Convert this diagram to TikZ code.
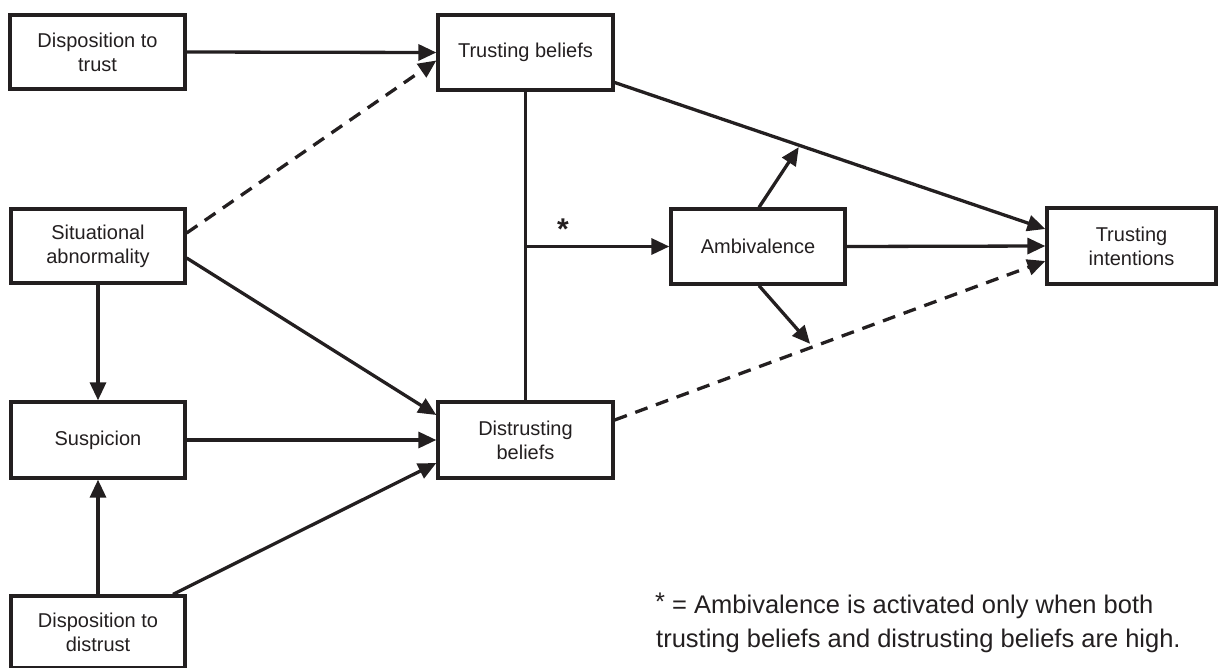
\documentclass[tikz,border=0pt]{standalone}
\usepackage{fontspec}
\setmainfont{Liberation Sans}
\usetikzlibrary{arrows.meta,calc}
\definecolor{ink}{HTML}{231F20}
\begin{document}
\begin{tikzpicture}[x=1pt,y=-1pt,
  box/.style={draw=ink, line width=3.3pt, rectangle, inner sep=0pt, align=center,
    text=ink, font=\fontsize{20}{24}\selectfont},
  arr/.style={draw=ink, line width=3.3pt, -{Triangle[length=18pt,width=16pt]}},
  dsh/.style={dash pattern=on 13pt off 9pt},
  plain/.style={draw=ink, line width=3.3pt}]
\useasboundingbox (0,0) rectangle (1218,667);
% boxes
\node[box, minimum width=175pt, minimum height=74pt] (DT) at (97.5,52) {Disposition to\\trust};
\node[box, minimum width=175pt, minimum height=75pt] (TB) at (525.5,52.5) {Trusting beliefs};
\node[box, minimum width=174pt, minimum height=74pt] (SA) at (98,246) {Situational\\abnormality};
\node[box, minimum width=174pt, minimum height=76pt] (SU) at (98,440) {Suspicion};
\node[box, minimum width=174pt, minimum height=72pt] (DD) at (98,632) {Disposition to\\distrust};
\node[box, minimum width=175pt, minimum height=76pt] (DB) at (525.5,440) {Distrusting\\beliefs};
\node[box, minimum width=174pt, minimum height=75pt] (AM) at (758,246.5) {Ambivalence};
\node[box, minimum width=169pt, minimum height=76pt] (TI) at (1131.5,246) {Trusting\\intentions};
% connectors
\draw[arr] (DT.east) -- (TB.west);
\draw[arr, dsh] ([yshift=13pt]SA.east) -- ([yshift=-8pt]TB.west);
\draw[arr] ([yshift=-12pt]SA.east) -- ([yshift=25pt]DB.west);
\draw[arr] (SA.south) -- (SU.north);
\draw[arr] (SU.east) -- (DB.west);
\draw[arr] ([xshift=75pt]DD.north) -- ([yshift=-23pt]DB.west);
\draw[arr] (DD.north) -- (SU.south);
\draw[plain] (TB.south) -- (DB.north);
\draw[arr] (TB.south |- AM.west) -- (AM.west);
\node[text=ink, font=\fontsize{30}{30}\selectfont\bfseries, inner sep=0pt] (star) at (563,229) {*};
\draw[arr] ([yshift=-30pt]TB.east) -- coordinate[pos=0.43] (p1) ([yshift=17pt]TI.west);
\draw[arr] (AM.east) -- (TI.west);
\draw[arr, dsh] ([yshift=20pt]DB.east) -- coordinate[pos=0.46] (p2) ([yshift=-15pt]TI.west);
\draw[arr, shorten >=2pt] ([xshift=1pt]AM.north) -- (p1);
\draw[arr, shorten >=4pt] ([xshift=1pt]AM.south) -- (p2);
% footnote
\node[anchor=base west, text=ink, font=\fontsize{25.5}{34}\selectfont, inner sep=0pt] (fn1) at (655,613) {\raisebox{3pt}{*}\ = Ambivalence is activated only when both};
\node[anchor=base west, text=ink, font=\fontsize{25.5}{34}\selectfont, inner sep=0pt] (fn2) at (656,647) {trusting beliefs and distrusting beliefs are high.};
\end{tikzpicture}
\end{document}
